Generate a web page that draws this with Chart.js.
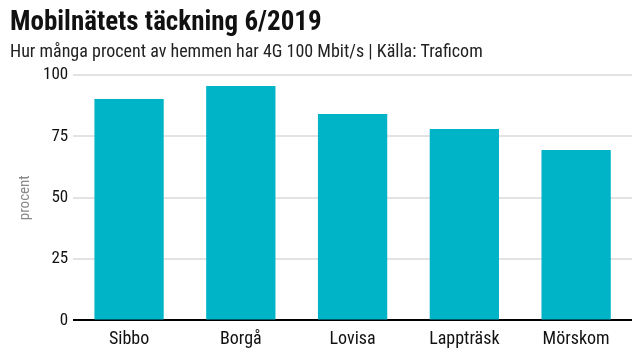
<!DOCTYPE html>
<html><head><meta charset="utf-8">
<script src="https://cdn.jsdelivr.net/npm/chart.js@4"></script>
<style>html,body{margin:0;padding:0;background:#fff}#w{width:640px;height:360px}</style>
</head><body><div id="w"><canvas id="c"></canvas></div>
<script>
const categories = ["Sibbo", "Borgå", "Lovisa", "Lappträsk", "Mörskom"];
const values = [90.2, 95.5, 84.1, 78, 69.4];
const yTicks = [0, 25, 50, 75, 100];
const titleText = "Mobilnätets täckning 6/2019";
const subtitleText = "Hur många procent av hemmen har 4G 100 Mbit/s | Källa: Traficom";
const yTitle = "procent";
const FONT = "'Liberation Sans Narrow', 'Roboto Condensed', 'DejaVu Sans Condensed', sans-serif";

new Chart(document.getElementById('c'), {
  type: 'bar',
  data: { labels: categories, datasets: [{ data: values, backgroundColor: '#00b4c8', categoryPercentage: 0.62, barPercentage: 1 }] },
  options: {
    responsive: true, maintainAspectRatio: false, animation: false,
    layout: { padding: { left: 10, right: 8, top: 5, bottom: 2 } },
    plugins: {
      legend: { display: false }, tooltip: { enabled: false },
      title: { display: true, text: titleText, align: 'start', color: '#111', font: { family: FONT, size: 27, weight: 'bold' }, padding: { top: 2, bottom: 2 } },
      subtitle: { display: true, text: subtitleText, align: 'start', color: '#222', font: { family: FONT, size: 18 }, padding: { top: 0, bottom: 12 } }
    },
    scales: {
      x: {
        grid: { display: false, drawTicks: false },
        border: { display: false },
        ticks: { color: '#111', font: { family: FONT, size: 18 }, padding: 8 }
      },
      y: {
        min: 0, max: 100,
        afterBuildTicks: ax => { ax.ticks = yTicks.map(v => ({ value: v })); },
        grid: { color: ctx => ctx.tick && ctx.tick.value === 0 ? '#000' : '#e3e3e3', lineWidth: 2, drawTicks: false },
        border: { display: false },
        ticks: { color: '#111', font: { family: FONT, size: 17 }, padding: 5 },
        title: { display: true, text: yTitle, color: '#888', font: { family: FONT, size: 15 }, padding: { top: 6, bottom: 4 } }
      }
    }
  }
});
</script></body></html>
